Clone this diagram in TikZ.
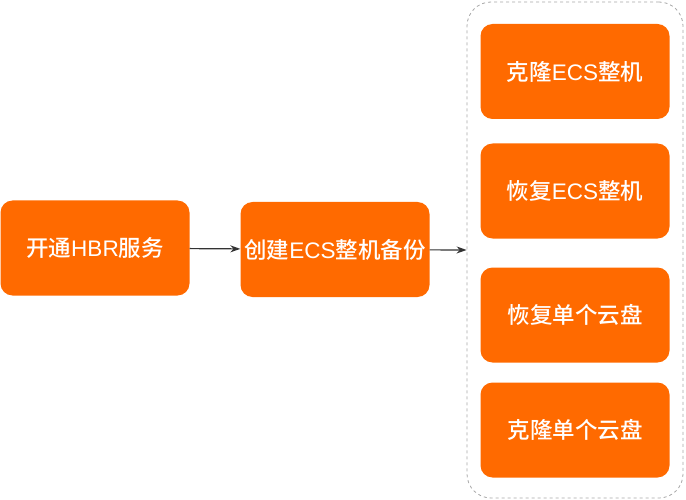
\documentclass[tikz,border=0pt]{standalone}
\usepackage{fontspec}
\setmainfont{Noto Sans CJK SC}[BoldFont={Noto Sans CJK SC Medium}]
\newfontfamily\latina{Liberation Sans}
\usepackage{xcolor}
\usetikzlibrary{arrows.meta}
\definecolor{naranja}{HTML}{FF6A00}
\newcommand{\lat}[1]{{\latina\mdseries #1}}

\begin{document}
\begin{tikzpicture}[x=1pt, y=-1pt,
  caja/.style={fill=naranja, text=white, rounded corners=12pt, minimum width=189pt, minimum height=95pt, inner sep=0pt, font=\fontsize{22.5}{26}\selectfont\bfseries},
  flecha/.style={-{Stealth[length=10pt, width=7pt]}, line width=1.2pt, black!80}]
\useasboundingbox (0,0) rectangle (686,500);
% Grupo de operaciones
\node[draw=gray!70, dashed, line width=0.8pt, rounded corners=24pt, minimum width=216pt, minimum height=496pt, inner sep=0pt] (grupo) at (575,250) {};
\node[caja] (clonar) at (575,71.5) {克隆\lat{ECS}整机};
\node[caja] (restaurar) at (575,191) {恢复\lat{ECS}整机};
\node[caja] (disco) at (575,315) {恢复单个云盘};
\node[caja] (clondisco) at (575,430) {克隆单个云盘};
% Pasos previos
\node[caja] (hbr) at (95,248) {开通\lat{HBR}服务};
\node[caja] (backup) at (335,249.5) {创建\lat{ECS}整机备份};
\draw[flecha] (hbr) -- (backup);
\draw[flecha] (backup) -- (grupo.west);
\end{tikzpicture}
\end{document}
